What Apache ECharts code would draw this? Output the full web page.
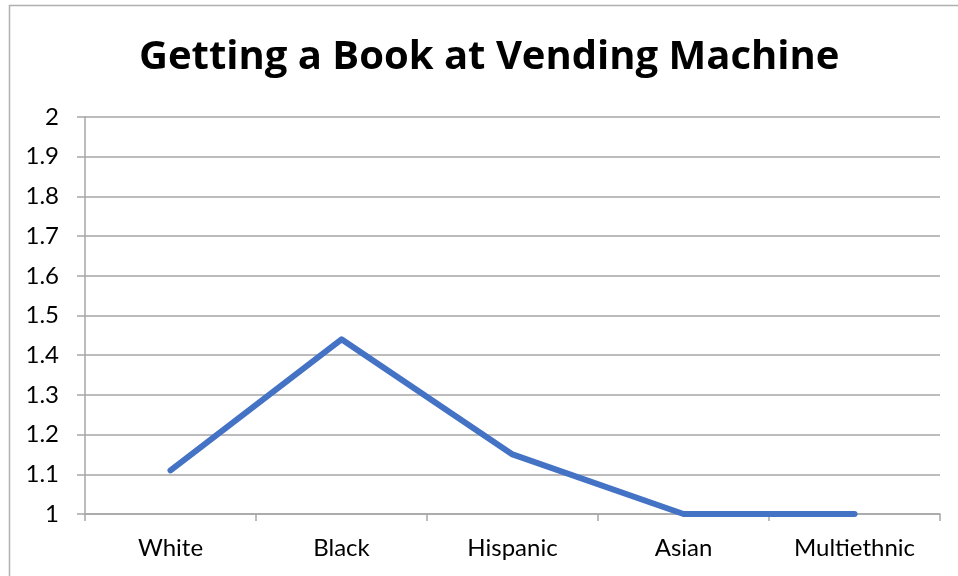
<!DOCTYPE html>
<html><head><meta charset="utf-8">
<script src="https://cdn.jsdelivr.net/npm/echarts@6/dist/echarts.min.js"></script>
<style>html,body{margin:0;padding:0;background:#fff}#c{width:958px;height:576px}</style>
</head><body><div id="c"></div>
<script>
var titleText = "Getting a Book at Vending Machine";
var categories = ["White", "Black", "Hispanic", "Asian", "Multiethnic"];
var values = [1.11, 1.44, 1.15, 1.0, 1.0];
var yMin = 1, yMax = 2, yStep = 0.1;

var chart = echarts.init(document.getElementById('c'), null, {renderer: 'canvas'});
chart.setOption({
  animation: false,
  backgroundColor: '#ffffff',
  title: {
    text: titleText, left: 134, top: 33,
    textStyle: {fontFamily: 'Open Sans', fontWeight: 'bold', fontSize: 40, color: '#000'}
  },
  graphic: [{
    type: 'rect', shape: {x: 9.5, y: 5.5, width: 1000, height: 700},
    style: {fill: 'none', stroke: '#b0b0b0', lineWidth: 1.5}, silent: true
  }],
  grid: {left: 85, right: 18, top: 117, bottom: 62, containLabel: false},
  xAxis: {
    type: 'category', data: categories, boundaryGap: true,
    axisLine: {show: true, lineStyle: {color: '#a6a6a6', width: 1.5}},
    axisTick: {show: true, length: 7, inside: false, alignWithLabel: false, lineStyle: {color: '#a6a6a6', width: 1.5}},
    axisLabel: {fontFamily: 'Lato', fontSize: 24, color: '#000', margin: 22},
    splitLine: {show: false}
  },
  yAxis: {
    type: 'value', min: yMin, max: yMax, interval: yStep,
    axisLine: {show: true, lineStyle: {color: '#a6a6a6', width: 1.5}},
    axisTick: {show: true, length: 8, lineStyle: {color: '#a6a6a6', width: 1.5}},
    axisLabel: {fontFamily: 'Lato', fontSize: 24, color: '#000', margin: 26,
      formatter: function (v) { return String(Math.round(v * 10) / 10); }},
    splitLine: {show: true, lineStyle: {color: '#a6a6a6', width: 1.5}}
  },
  series: [{
    type: 'line', data: values, showSymbol: false, symbol: 'none',
    lineStyle: {color: '#4472c4', width: 6, cap: 'round', join: 'round'},
    itemStyle: {color: '#4472c4'}, z: 5
  }]
});
</script></body></html>
